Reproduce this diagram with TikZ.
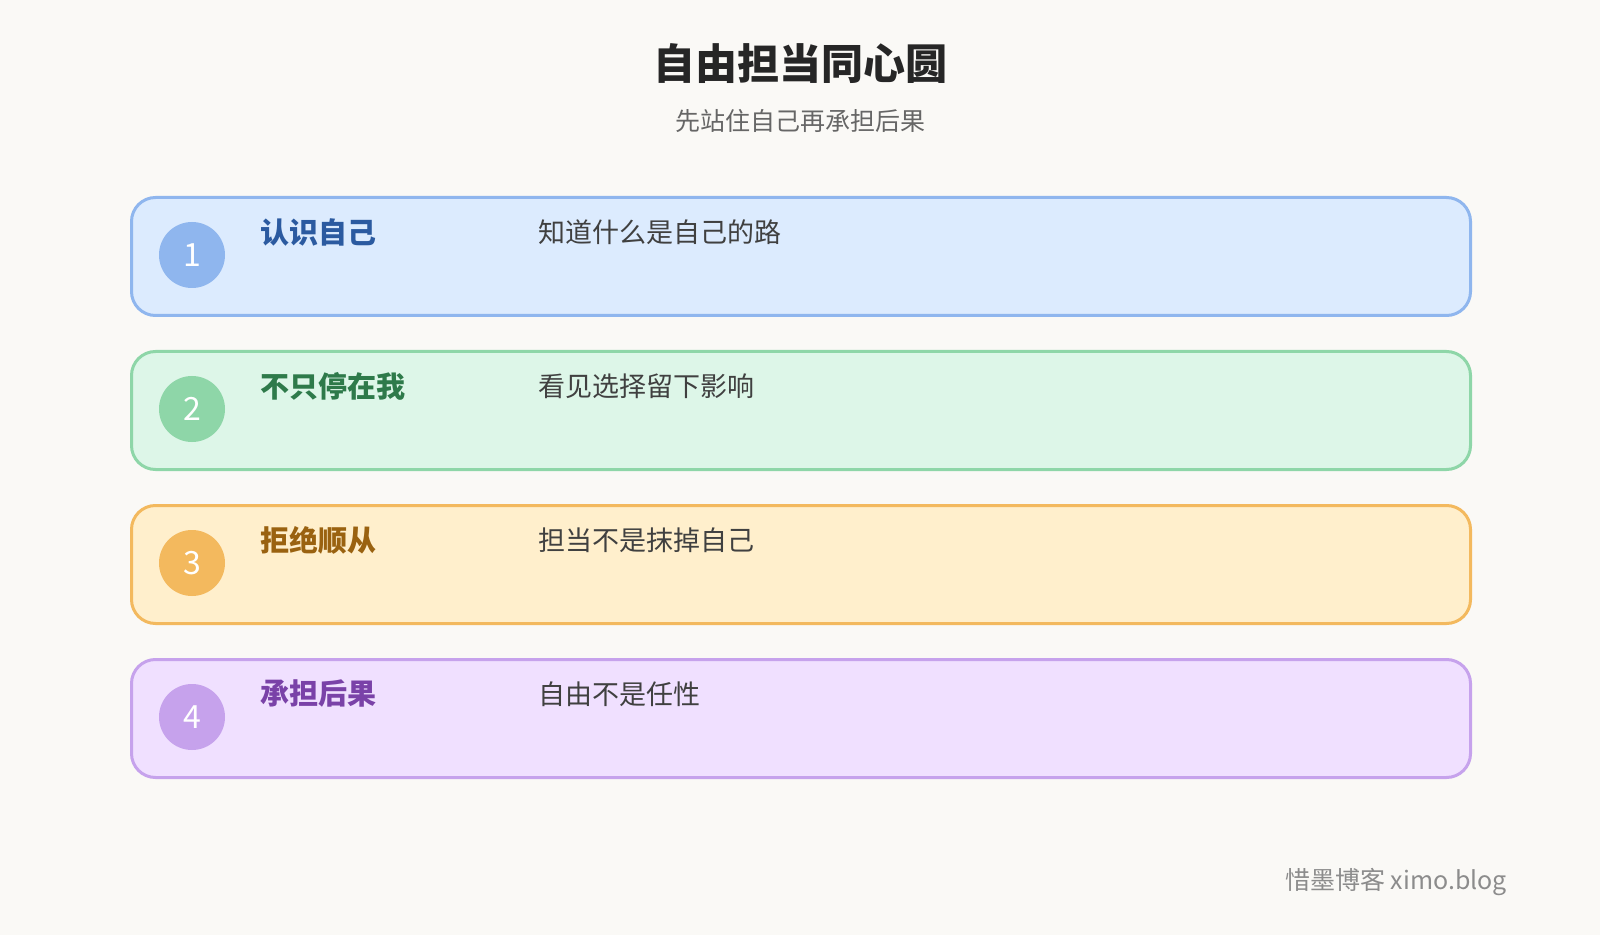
\documentclass[tikz,border=0pt]{standalone}
\usepackage{fontspec}
\setmainfont{Noto Sans CJK SC}
\newfontfamily\cjkbold[FakeBold=0]{Noto Sans CJK SC Bold}
\usetikzlibrary{positioning}
\definecolor{bgcol}{HTML}{FAF9F6}
\definecolor{blueFill}{HTML}{DCEBFE}\definecolor{blueLine}{HTML}{8FB6EE}\definecolor{blueText}{HTML}{2B5AA0}
\definecolor{greenFill}{HTML}{DDF6E8}\definecolor{greenLine}{HTML}{8ED6A8}\definecolor{greenText}{HTML}{2E7A4A}
\definecolor{orangeFill}{HTML}{FFEFCC}\definecolor{orangeLine}{HTML}{F3B95E}\definecolor{orangeText}{HTML}{9A6210}
\definecolor{purpleFill}{HTML}{F0E0FF}\definecolor{purpleLine}{HTML}{C6A2EC}\definecolor{purpleText}{HTML}{7A42A8}
\begin{document}
\begin{tikzpicture}[x=0.5pt, y=-0.5pt,
        Card/.style = {rectangle, rounded corners = 12, line width = 1.5pt, minimum width = 669.5pt, minimum height = 59pt, anchor = north west},
        %
        Badge/.style = {circle, minimum size = 33pt, inner sep = 0, text = white, font = \fontsize{16}{16}\selectfont},
        %
        Label/.style = {anchor = west, font = \bfseries\fontsize{14.5}{16}\selectfont},
        %
        Desc/.style = {anchor = west, text = black!75, font = \fontsize{13.5}{16}\selectfont},
    ]
        \fill[bgcol] (0,0) rectangle (1600,935);

        % Title
        \node[font = \bfseries\fontsize{21}{24}\selectfont, text = black!85] (Title) at (800,64) {自由担当同心圆};
        \node[font = \fontsize{12.5}{14}\selectfont, text = black!60] (Subtitle) at (800,121) {先站住自己再承担后果};

        % Cards
        \foreach \i/\col/\lab/\txt in {1/blue/认识自己/知道什么是自己的路, 2/green/不只停在我/看见选择留下影响, 3/orange/拒绝顺从/担当不是抹掉自己, 4/purple/承担后果/自由不是任性}{
            \node[Card, draw = \col Line, fill = \col Fill] (Card\i) at (130,{196+154*(\i-1)}) {};
            \node[Badge, fill = \col Line] (Badge\i) at (192,{255+154*(\i-1)}) {\i};
            \node[Label, text = \col Text] (Label\i) at (253,{232+154*(\i-1)}) {\lab};
            \node[Desc] (Desc\i) at (531,{232+154*(\i-1)}) {\txt};
        }

        % Footer
        \node[anchor = east, text = black!45, font = \fontsize{12.5}{14}\selectfont] (Footer) at (1514,882) {惜墨博客 ximo.blog};
    \end{tikzpicture}
\end{document}
